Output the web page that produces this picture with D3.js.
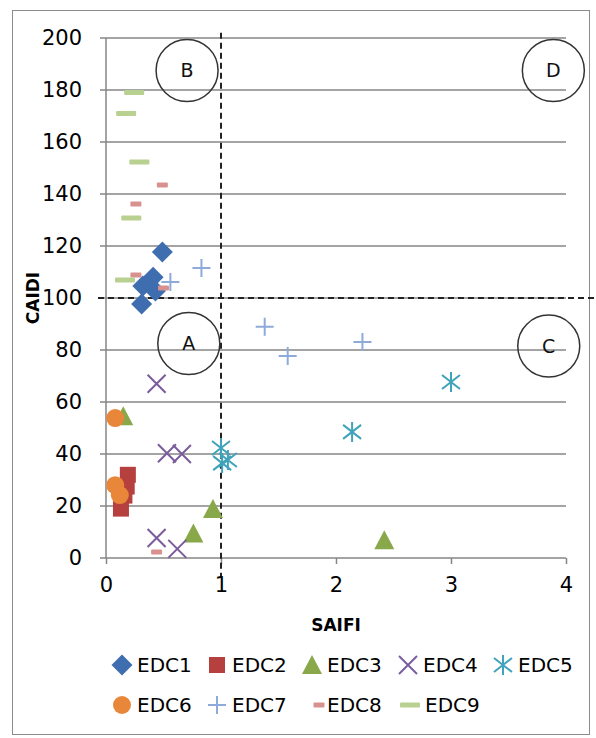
<!DOCTYPE html>
<html>
<head>
<meta charset="utf-8">
<script src="https://cdn.jsdelivr.net/npm/d3@7"></script>
<style>
  body { margin: 0; background: #fff; }
  text { font-family: "DejaVu Sans", sans-serif; }
</style>
</head>
<body>
<svg id="chart"></svg>
<script>
// SAIFI (x) / CAIDI (y) per EDC
var edc1 = [[0.49, 117.7], [0.41, 108], [0.32, 104.6], [0.43, 102.7], [0.31, 97.7]];
var edc2 = [[0.19, 32], [0.18, 27.5], [0.16, 24], [0.13, 19]];
var edc3 = [[0.15, 54.5], [0.93, 18.8], [0.76, 9.4], [2.42, 6.8]];
var edc4 = [[0.44, 67], [0.53, 40.3], [0.66, 40], [0.44, 7.7], [0.62, 3.5]];
var edc5 = [[1.0, 42.3], [1.06, 37.7], [1.01, 36.5], [2.14, 48.5], [3.0, 67.7]];
var edc6 = [[0.08, 53.8], [0.08, 28], [0.12, 24.2]];
var edc7 = [[0.83, 111.5], [0.56, 106.2], [1.38, 88.9], [1.58, 77.7], [2.23, 83.1]];
var edc8 = [[0.49, 143.5], [0.26, 136.2], [0.26, 108.8], [0.5, 103.8], [0.44, 2.3]];
var edc9 = [[0.245, 179], [0.175, 171], [0.29, 152.3], [0.22, 130.8], [0.165, 106.9]];

var seriesNames = ["EDC1", "EDC2", "EDC3", "EDC4", "EDC5", "EDC6", "EDC7", "EDC8", "EDC9"];
var seriesData = [edc1, edc2, edc3, edc4, edc5, edc6, edc7, edc8, edc9];
var colors = ["#3f6eb0", "#b5403d", "#88a84a", "#7a5c9c", "#3fa3bb", "#e8873a", "#8eaada", "#d99190", "#b8d090"];
var shapes = ["diamond", "square", "triangle", "x", "star", "circle", "plus", "dash", "longdash"];

var xTicks = [0, 1, 2, 3, 4];
var yTicks = [0, 20, 40, 60, 80, 100, 120, 140, 160, 180, 200];

// quadrant labels
var quadrants = [["A", 0.72, 82.5], ["B", 0.705, 187.5], ["C", 3.85, 81.5], ["D", 3.89, 187.5]];
var thresholdX = 1, thresholdY = 100;

var W = 596, H = 738;
var svg = d3.select("#chart").attr("width", W).attr("height", H);

svg.append("rect").attr("x", 12.5).attr("y", 10.5).attr("width", 577).attr("height", 724)
  .attr("fill", "#fff").attr("stroke", "#8c8c8c").attr("stroke-width", 1);

var x = d3.scaleLinear().domain([0, 4]).range([106, 566]);
var y = d3.scaleLinear().domain([0, 200]).range([558, 38]);

// grid
svg.append("g").selectAll("line").data(yTicks).enter().append("line")
  .attr("x1", 100).attr("x2", x(4))
  .attr("y1", function(d){ return y(d); }).attr("y2", function(d){ return y(d); })
  .attr("stroke", "#868686").attr("stroke-width", 1.5);

svg.append("line").attr("x1", x(0)).attr("x2", x(0)).attr("y1", y(200)).attr("y2", y(0))
  .attr("stroke", "#868686").attr("stroke-width", 1.5);

var xAxis = svg.append("g").attr("transform", "translate(0," + y(0) + ")")
  .call(d3.axisBottom(x).tickValues(xTicks).tickSize(6).tickPadding(13).tickFormat(d3.format("d")));
xAxis.select(".domain").remove();
xAxis.selectAll("line").attr("stroke", "#868686").attr("stroke-width", 1.5);
xAxis.selectAll("text").attr("font-size", 21).attr("fill", "#000").attr("font-family", "DejaVu Sans");

var yAxis = svg.append("g").attr("transform", "translate(" + x(0) + ",0)")
  .call(d3.axisLeft(y).tickValues(yTicks).tickSize(0).tickPadding(24));
yAxis.select(".domain").remove();
yAxis.selectAll("text").attr("font-size", 21).attr("fill", "#000").attr("font-family", "DejaVu Sans");

svg.append("text").attr("x", 336).attr("y", 631).attr("text-anchor", "middle")
  .attr("font-family", "Open Sans").attr("font-weight", "bold").attr("font-size", 17).text("SAIFI");
svg.append("text").attr("transform", "translate(39,298) rotate(-90)").attr("text-anchor", "middle")
  .attr("font-family", "Open Sans").attr("font-weight", "bold").attr("font-size", 17).text("CAIDI");

// threshold lines
svg.append("line").attr("x1", x(thresholdX)).attr("x2", x(thresholdX))
  .attr("y1", y(202)).attr("y2", y(-7))
  .attr("stroke", "#222").attr("stroke-width", 2).attr("stroke-dasharray", "6,4");
svg.append("line").attr("x1", 98).attr("x2", W)
  .attr("y1", y(thresholdY)).attr("y2", y(thresholdY))
  .attr("stroke", "#222").attr("stroke-width", 2).attr("stroke-dasharray", "6,4");

// quadrant circles
var q = svg.append("g").selectAll("g").data(quadrants).enter().append("g")
  .attr("transform", function(d){ return "translate(" + x(d[1]) + "," + y(d[2]) + ")"; });
q.append("circle").attr("r", 31).attr("fill", "none").attr("stroke", "#333").attr("stroke-width", 1.5);
q.append("text").attr("text-anchor", "middle").attr("dy", "0.36em").attr("font-size", 19)
  .attr("fill", "#111").text(function(d){ return d[0]; });

function drawMarker(g, shape, color) {
  if (shape == "diamond") g.append("path").attr("d", "M0,-10.5L10.5,0L0,10.5L-10.5,0Z").attr("fill", color);
  else if (shape == "square") g.append("rect").attr("x", -8).attr("y", -8).attr("width", 16).attr("height", 16).attr("fill", color);
  else if (shape == "triangle") g.append("path").attr("d", "M0,-10L10,9L-10,9Z").attr("fill", color);
  else if (shape == "circle") g.append("circle").attr("r", 9).attr("fill", color);
  else if (shape == "x") g.append("path").attr("d", "M-9,-9L9,9M-9,9L9,-9").attr("stroke", color).attr("stroke-width", 2);
  else if (shape == "star") g.append("path").attr("d", "M-9,-7L9,7M-9,7L9,-7M0,-10L0,10").attr("stroke", color).attr("stroke-width", 2);
  else if (shape == "plus") g.append("path").attr("d", "M-9,0L9,0M0,-9L0,9").attr("stroke", color).attr("stroke-width", 2);
  else if (shape == "dash") g.append("rect").attr("x", -5.5).attr("y", -2.5).attr("width", 11).attr("height", 5).attr("rx", 1).attr("fill", color);
  else if (shape == "longdash") g.append("rect").attr("x", -10).attr("y", -2.5).attr("width", 20).attr("height", 5).attr("rx", 1).attr("fill", color);
}

seriesData.forEach(function(data, i){
  svg.append("g").selectAll("g").data(data).enter().append("g")
    .attr("transform", function(d){ return "translate(" + x(d[0]) + "," + y(d[1]) + ")"; })
    .each(function(){ drawMarker(d3.select(this), shapes[i], colors[i]); });
});

// legend
var legX = [122, 217, 312, 408, 503, 122, 217, 319, 410];
var legY = [665, 665, 665, 665, 665, 705, 705, 705, 705];
var leg = svg.append("g").selectAll("g").data(seriesNames).enter().append("g")
  .attr("transform", function(d, i){ return "translate(" + legX[i] + "," + legY[i] + ")"; });
leg.each(function(d, i){ drawMarker(d3.select(this), shapes[i], colors[i]); });
leg.append("text").attr("x", function(d, i){ return i == 7 ? 8 : 15; }).attr("dy", "0.36em")
  .attr("font-size", 20).attr("fill", "#000").text(function(d){ return d; });
</script>
</body>
</html>
